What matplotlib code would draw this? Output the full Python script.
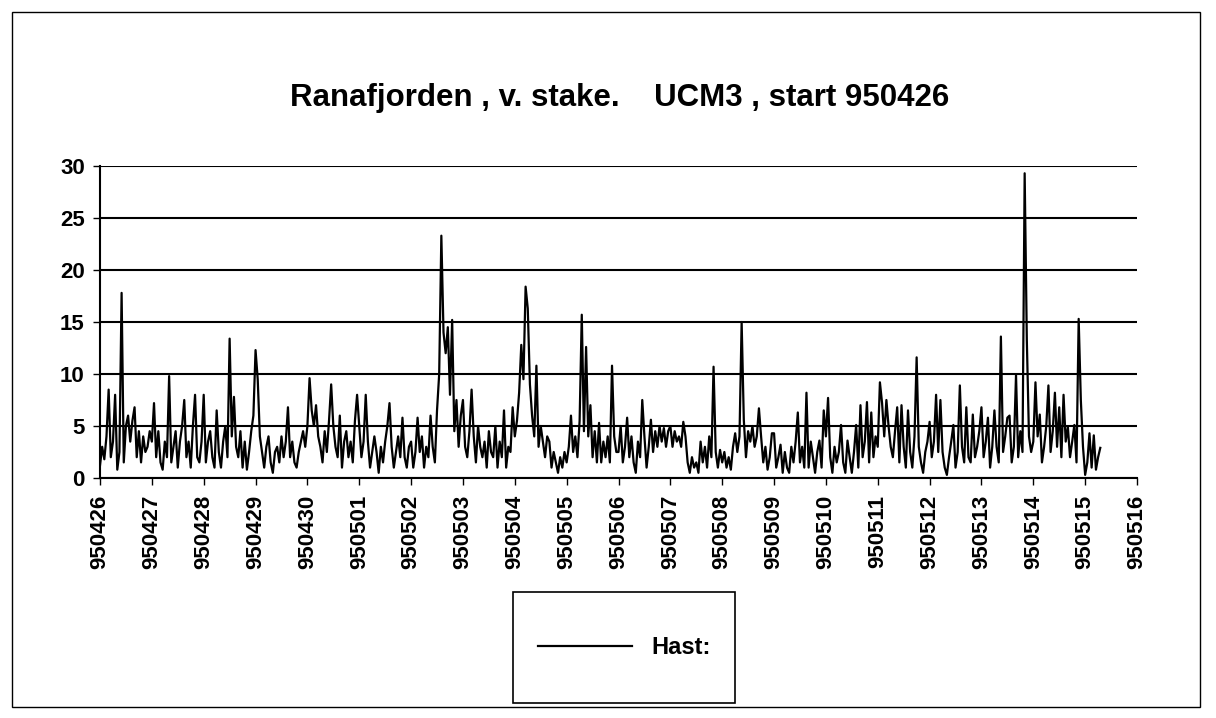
import matplotlib
matplotlib.use("Agg")
import matplotlib.pyplot as plt
from matplotlib.patches import Rectangle
import numpy as np

plt.rcParams['font.family'] = ['Liberation Sans', 'DejaVu Sans']

title = "Ranafjorden , v. stake.    UCM3 , start 950426"
series_label = "Hast:"
day_labels = ["950426", "950427", "950428", "950429", "950430", "950501",
              "950502", "950503", "950504", "950505", "950506", "950507",
              "950508", "950509", "950510", "950511", "950512", "950513",
              "950514", "950515", "950516"]
samples_per_day = 24
y_ticks = [0, 5, 10, 15, 20, 25, 30]

# hourly speed values, one list per day
hast_d00 = [1.2, 3.0, 1.8, 4.0, 8.5, 2.0, 3.5, 8.0, 0.8, 2.5, 17.8, 1.5, 5.0, 6.0, 3.5, 5.5, 6.8, 2.0, 4.5, 1.5, 4.0, 2.5, 3.0, 4.5]
hast_d01 = [3.5, 7.2, 2.0, 4.5, 1.5, 0.8, 3.5, 2.0, 9.8, 1.5, 3.0, 4.5, 1.0, 3.5, 5.0, 7.5, 2.0, 3.5, 1.0, 5.0, 8.0, 2.0, 1.5, 3.5]
hast_d02 = [8.0, 1.5, 3.5, 4.5, 2.0, 1.0, 6.5, 2.5, 1.0, 3.5, 5.0, 2.0, 13.4, 4.0, 7.8, 3.0, 2.0, 4.5, 1.0, 3.5, 0.8, 2.5, 4.5, 6.0]
hast_d03 = [12.3, 9.5, 4.0, 2.5, 1.0, 3.0, 4.0, 1.5, 0.5, 2.5, 3.0, 1.5, 4.0, 2.0, 3.5, 6.8, 2.0, 3.5, 1.5, 1.0, 2.5, 3.5, 4.5, 3.0]
hast_d04 = [5.0, 9.6, 6.5, 5.0, 7.0, 4.0, 3.0, 1.5, 4.5, 2.5, 5.5, 9.0, 5.0, 3.0, 2.0, 6.0, 1.0, 3.5, 4.5, 2.0, 3.5, 1.5, 5.5, 8.0]
hast_d05 = [5.0, 2.0, 3.5, 8.0, 3.5, 1.0, 2.5, 4.0, 2.5, 0.5, 3.0, 1.5, 3.5, 5.0, 7.2, 3.0, 1.0, 2.5, 4.0, 2.0, 5.8, 2.0, 1.0, 3.0]
hast_d06 = [3.5, 1.0, 2.5, 5.8, 2.5, 4.0, 1.0, 3.0, 2.0, 6.0, 3.0, 1.5, 6.5, 10.0, 23.3, 14.0, 12.0, 14.5, 8.0, 15.2, 4.5, 7.5, 3.0, 6.0]
hast_d07 = [7.5, 3.0, 2.0, 4.5, 8.5, 4.0, 1.5, 5.0, 3.0, 2.0, 3.5, 1.0, 4.5, 2.5, 2.0, 5.0, 1.0, 3.5, 2.0, 6.5, 1.0, 3.0, 2.5, 6.8]
hast_d08 = [4.0, 5.5, 8.2, 12.8, 9.5, 18.4, 16.3, 9.0, 6.0, 4.0, 10.8, 3.0, 5.0, 3.5, 2.0, 4.0, 3.5, 1.0, 2.5, 1.5, 0.5, 2.0, 1.0, 2.5]
hast_d09 = [1.5, 3.0, 6.0, 2.5, 4.0, 2.0, 5.5, 15.7, 4.5, 12.6, 4.0, 7.0, 2.0, 4.5, 1.5, 5.3, 1.5, 3.5, 2.0, 4.0, 1.5, 10.8, 4.0, 2.5]
hast_d10 = [2.5, 5.0, 1.5, 3.0, 5.8, 2.0, 4.0, 1.5, 0.5, 3.5, 2.0, 7.5, 4.0, 1.0, 3.0, 5.6, 2.5, 4.5, 3.0, 5.0, 3.5, 4.8, 3.0, 4.5]
hast_d11 = [5.0, 3.0, 4.5, 3.5, 4.0, 3.0, 5.4, 4.0, 1.5, 0.5, 2.0, 1.0, 1.5, 0.5, 3.5, 1.5, 3.0, 1.0, 4.0, 2.0, 10.7, 2.5, 1.0, 2.7]
hast_d12 = [1.5, 2.5, 1.0, 2.0, 0.8, 3.0, 4.3, 2.5, 4.0, 15.0, 5.6, 2.0, 4.5, 3.5, 5.0, 3.0, 4.0, 6.7, 4.0, 1.5, 3.0, 0.8, 2.0, 4.3]
hast_d13 = [4.3, 1.0, 2.0, 3.2, 0.5, 2.5, 1.0, 0.5, 3.0, 1.5, 3.5, 6.3, 1.5, 3.0, 1.0, 8.2, 1.0, 3.5, 2.0, 0.5, 2.5, 3.6, 1.0, 6.5]
hast_d14 = [4.0, 7.7, 2.0, 0.5, 3.0, 1.5, 2.5, 5.1, 1.5, 0.5, 3.6, 2.0, 0.5, 2.5, 5.1, 1.0, 7.0, 2.0, 3.5, 7.3, 1.5, 6.3, 2.0, 4.0]
hast_d15 = [3.0, 9.2, 7.2, 4.0, 7.5, 5.0, 3.0, 2.0, 4.5, 6.8, 1.5, 7.0, 3.0, 1.0, 6.5, 2.5, 1.0, 4.0, 11.6, 3.0, 1.5, 0.5, 2.5, 3.5]
hast_d16 = [5.4, 2.0, 3.5, 8.0, 2.5, 7.5, 2.5, 1.0, 0.3, 2.0, 3.5, 5.1, 1.0, 2.5, 8.9, 3.0, 1.5, 6.8, 2.0, 1.5, 6.1, 2.0, 3.0, 4.5]
hast_d17 = [6.8, 2.0, 3.5, 5.8, 1.0, 3.0, 6.5, 3.0, 1.5, 13.6, 2.5, 4.0, 5.8, 6.0, 1.5, 3.0, 9.9, 2.0, 4.5, 2.5, 29.3, 13.3, 4.0, 2.5]
hast_d18 = [3.5, 9.2, 4.0, 6.1, 1.5, 3.0, 5.0, 8.9, 2.5, 4.5, 8.2, 3.0, 6.8, 2.0, 8.0, 3.5, 4.9, 2.0, 3.5, 5.1, 1.5, 15.3, 7.5, 3.0]
hast_d19 = [0.3, 1.5, 4.3, 1.0, 4.1, 0.8, 2.0, 2.9]

hast = (hast_d00 + hast_d01 + hast_d02 + hast_d03 + hast_d04 + hast_d05 +
        hast_d06 + hast_d07 + hast_d08 + hast_d09 + hast_d10 + hast_d11 +
        hast_d12 + hast_d13 + hast_d14 + hast_d15 + hast_d16 + hast_d17 +
        hast_d18 + hast_d19)

W, H = 1216, 718
fig = plt.figure(figsize=(W / 100, H / 100), dpi=100)
fig.patch.set_facecolor("white")

# outer frame
fig.patches.append(Rectangle((12 / W, 1 - 707 / H), (1200 - 12) / W, (707 - 12) / H,
                             transform=fig.transFigure, fill=False,
                             edgecolor="black", linewidth=1.0))

ax_left, ax_right, ax_top, ax_bot = 100, 1137, 166, 478
ax = fig.add_axes([ax_left / W, 1 - ax_bot / H, (ax_right - ax_left) / W,
                   (ax_bot - ax_top) / H])

t = np.arange(len(hast)) / samples_per_day
line, = ax.plot(t, hast, color="black", linewidth=1.6, label=series_label, zorder=4)

ax.set_xlim(0, len(day_labels) - 1)
ax.set_ylim(0, 30)
ax.set_yticks(y_ticks)
ax.set_xticks(np.arange(len(day_labels)))
ax.set_xticklabels(day_labels, rotation=90, fontsize=16, fontweight="bold")
ax.set_yticklabels([str(v) for v in y_ticks], fontsize=16, fontweight="bold")
ax.tick_params(axis="x", direction="out", length=5, width=1, pad=7)
ax.tick_params(axis="y", direction="out", length=5, width=1, pad=6)

for v in y_ticks[1:]:
    ax.axhline(v, color="black", linewidth=1.5, zorder=1)
ax.axhline(0, color="black", linewidth=1.5, zorder=3)

for s in ["top", "right"]:
    ax.spines[s].set_visible(False)
ax.spines["left"].set_linewidth(1.5)
ax.spines["bottom"].set_linewidth(1.5)

fig.text(620 / W, 1 - 98 / H, title, ha="center", va="center",
         fontsize=22.5, fontweight="bold")

# legend box
lx0, lx1, ly0, ly1 = 513, 735, 592, 703
fig.patches.append(Rectangle((lx0 / W, 1 - ly1 / H), (lx1 - lx0) / W, (ly1 - ly0) / H,
                             transform=fig.transFigure, fill=False,
                             edgecolor="black", linewidth=1.2))
fig.legend(handles=[line], labels=[series_label], loc="center",
           bbox_to_anchor=((lx0 + lx1) / 2 / W, 1 - (ly0 + ly1) / 2 / H),
           frameon=False, handlelength=4.0, handletextpad=0.8,
           prop={"size": 17, "weight": "bold"})

fig.savefig("out.png", dpi=100, facecolor="white")
